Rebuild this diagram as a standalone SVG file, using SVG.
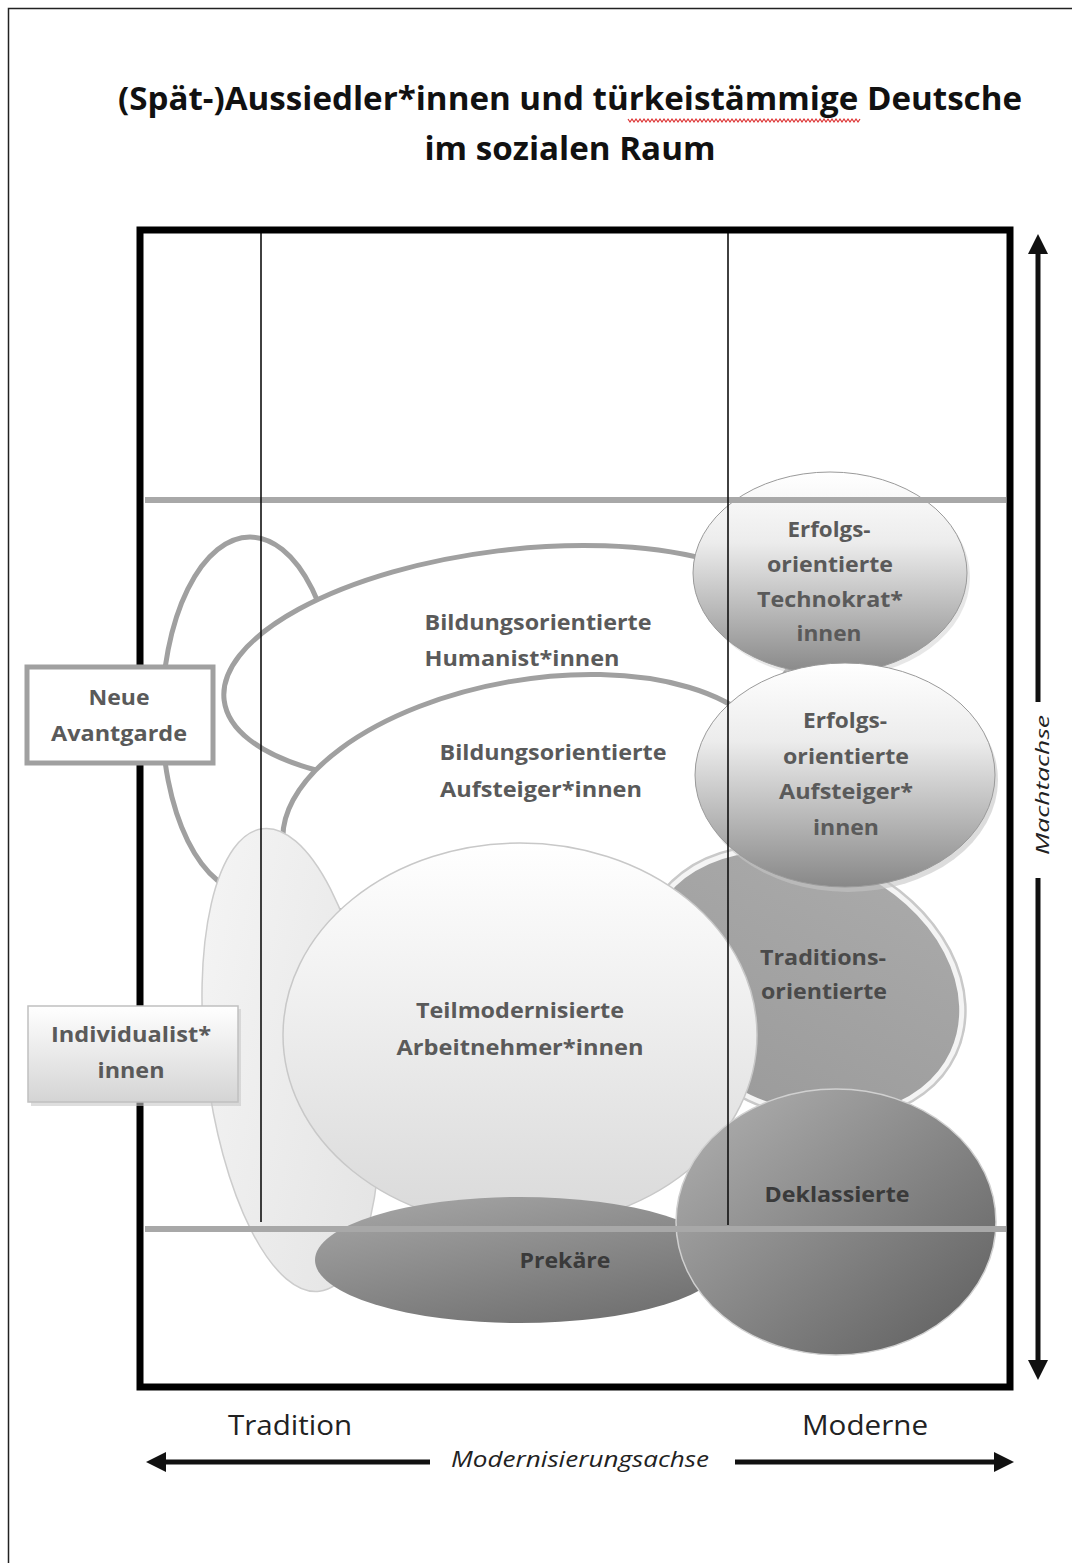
<svg xmlns="http://www.w3.org/2000/svg" width="1072" height="1563" viewBox="0 0 1072 1563">
<style>
.lbl{font-family:"Open Sans","Liberation Sans",sans-serif;font-weight:bold;font-size:22px;fill:#5a5a5a;text-anchor:middle}
.dk{fill:#3a3a3a}
.title{font-family:"Open Sans","Liberation Sans",sans-serif;font-weight:bold;font-size:32px;fill:#111;text-anchor:middle}
.axis{font-family:"Open Sans","Liberation Sans",sans-serif;font-size:27px;fill:#222;text-anchor:middle}
.axisI{font-family:"Open Sans","Liberation Sans",sans-serif;font-style:italic;font-size:21px;fill:#222;text-anchor:middle}
.outl{fill:#fff;stroke:#a0a0a0;stroke-width:5}
.grid{stroke:#a8a8a8;stroke-width:6}
.vline{stroke:#111;stroke-width:1.6}
.arr{stroke:#111;stroke-width:5;fill:none}
</style>
<defs>
<linearGradient id="gShade" x1="0" y1="0" x2="0" y2="1">
<stop offset="0" stop-color="#ffffff"/><stop offset="0.35" stop-color="#ececec"/><stop offset="1" stop-color="#888888"/>
</linearGradient>
<linearGradient id="gLight" x1="0" y1="0" x2="0" y2="1">
<stop offset="0" stop-color="#ffffff"/><stop offset="1" stop-color="#d9d9d9"/>
</linearGradient>
<linearGradient id="gInd" x1="0" y1="0" x2="1" y2="1">
<stop offset="0" stop-color="#f6f6f6"/><stop offset="1" stop-color="#e2e2e2"/>
</linearGradient>
<linearGradient id="gBox" x1="0" y1="0" x2="0" y2="1">
<stop offset="0" stop-color="#ffffff"/><stop offset="1" stop-color="#d4d4d4"/>
</linearGradient>
<linearGradient id="gTrad" x1="0" y1="0" x2="0" y2="1">
<stop offset="0" stop-color="#a9a9a9"/><stop offset="1" stop-color="#9c9c9c"/>
</linearGradient>
<linearGradient id="gPrek" x1="0" y1="0" x2="0.6" y2="1">
<stop offset="0" stop-color="#a8a8a8"/><stop offset="1" stop-color="#737373"/>
</linearGradient>
<linearGradient id="gDekl" x1="0" y1="0" x2="1" y2="1">
<stop offset="0" stop-color="#b3b3b3"/><stop offset="1" stop-color="#5c5c5c"/>
</linearGradient>
<marker id="ah" viewBox="0 0 10 10" refX="5" refY="5" markerWidth="4" markerHeight="4" orient="auto-start-reverse">
<path d="M0,0 L10,5 L0,10 z" fill="#111"/>
</marker>
</defs>

<rect x="0" y="0" width="1072" height="1563" fill="#fff"/>
<rect x="8.5" y="8.5" width="1075" height="1570" fill="none" stroke="#222" stroke-width="1.5"/>

<g id="title">
<text class="title" x="570" y="110" textLength="904" lengthAdjust="spacingAndGlyphs">(Spät-)Aussiedler*innen und türkeistämmige Deutsche</text>
<text class="title" x="570" y="160" textLength="291" lengthAdjust="spacingAndGlyphs">im sozialen Raum</text>
<polyline points="628,119 630,122 632,119 634,122 636,119 638,122 640,119 642,122 644,119 646,122 648,119 650,122 652,119 654,122 656,119 658,122 660,119 662,122 664,119 666,122 668,119 670,122 672,119 674,122 676,119 678,122 680,119 682,122 684,119 686,122 688,119 690,122 692,119 694,122 696,119 698,122 700,119 702,122 704,119 706,122 708,119 710,122 712,119 714,122 716,119 718,122 720,119 722,122 724,119 726,122 728,119 730,122 732,119 734,122 736,119 738,122 740,119 742,122 744,119 746,122 748,119 750,122 752,119 754,122 756,119 758,122 760,119 762,122 764,119 766,122 768,119 770,122 772,119 774,122 776,119 778,122 780,119 782,122 784,119 786,122 788,119 790,122 792,119 794,122 796,119 798,122 800,119 802,122 804,119 806,122 808,119 810,122 812,119 814,122 816,119 818,122 820,119 822,122 824,119 826,122 828,119 830,122 832,119 834,122 836,119 838,122 840,119 842,122 844,119 846,122 848,119 850,122 852,119 854,122 856,119 858,122 860,119" fill="none" stroke="#d33" stroke-width="1.2"/>
</g>

<g id="avantgarde-ellipse"><ellipse class="outl" cx="250" cy="715" rx="88" ry="178"/></g>
<g id="humanisten"><ellipse class="outl" cx="512" cy="665" rx="290" ry="115" transform="rotate(-7 512 665)"/></g>
<g id="technokraten"><ellipse cx="833" cy="577" rx="137" ry="101" fill="#cfcfcf" opacity="0.5"/><ellipse cx="830" cy="573" rx="137" ry="101" fill="url(#gShade)" stroke="#9a9a9a" stroke-width="1"/></g>
<g id="bildungsaufsteiger"><ellipse class="outl" cx="530" cy="805" rx="250" ry="125" transform="rotate(-10 530 805)"/></g>
<g id="traditionsorientierte"><ellipse cx="803" cy="983" rx="170" ry="131" transform="rotate(25 803 983)" fill="#c9c9c9"/><ellipse cx="803" cy="983" rx="165" ry="126" transform="rotate(25 803 983)" fill="url(#gTrad)" stroke="#f4f4f4" stroke-width="5"/></g>
<g id="erfolgsaufsteiger"><ellipse cx="848" cy="780" rx="150" ry="112" fill="#c4c4c4" opacity="0.6"/><ellipse cx="845" cy="775" rx="150" ry="112" fill="url(#gShade)" stroke="#9a9a9a" stroke-width="1"/></g>
<g id="individualisten-ellipse"><ellipse cx="291" cy="1060" rx="85" ry="233" transform="rotate(-7 291 1060)" fill="url(#gInd)" stroke="#cccccc" stroke-width="1.5"/></g>
<g id="teilmodernisierte"><ellipse cx="520" cy="1035" rx="237" ry="192" fill="url(#gLight)" stroke="#c8c8c8" stroke-width="1.5"/></g>
<g id="prekaere"><ellipse cx="520" cy="1260" rx="205" ry="63" fill="url(#gPrek)"/></g>
<g id="deklassierte"><ellipse cx="836" cy="1222" rx="160" ry="133" fill="url(#gDekl)" stroke="#d0d0d0" stroke-width="1.5"/></g>

<g id="connectors">
<line class="grid" x1="145" y1="500" x2="1006" y2="500"/>
<line class="grid" x1="145" y1="1229" x2="1006" y2="1229"/>
<line class="vline" x1="261" y1="233" x2="261" y2="1222"/>
<line class="vline" x1="728" y1="233" x2="728" y2="1225"/>
<rect x="140" y="230" width="870" height="1157" fill="none" stroke="#000" stroke-width="7"/>
<line class="arr" x1="1038" y1="702" x2="1038" y2="244" marker-end="url(#ah)"/>
<line class="arr" x1="1038" y1="878" x2="1038" y2="1370" marker-end="url(#ah)"/>
<line class="arr" x1="430" y1="1462" x2="156" y2="1462" marker-end="url(#ah)"/>
<line class="arr" x1="735" y1="1462" x2="1004" y2="1462" marker-end="url(#ah)"/>
</g>

<g id="neue-avantgarde">
<rect x="27" y="667" width="186" height="96" fill="#fff" stroke="#a0a0a0" stroke-width="5"/>
<text class="lbl" x="119" y="705" textLength="61" lengthAdjust="spacingAndGlyphs">Neue</text>
<text class="lbl" x="119" y="741" textLength="136" lengthAdjust="spacingAndGlyphs">Avantgarde</text>
</g>
<g id="individualisten">
<rect x="31" y="1009" width="210" height="97" fill="#c8c8c8" opacity="0.6"/>
<rect x="28" y="1006" width="210" height="96" fill="url(#gBox)" stroke="#c0c0c0" stroke-width="1.5"/>
<text class="lbl" x="131" y="1042" textLength="160" lengthAdjust="spacingAndGlyphs">Individualist*</text>
<text class="lbl" x="131" y="1078" textLength="67" lengthAdjust="spacingAndGlyphs">innen</text>
</g>

<g id="labels">
<text class="lbl" x="538" y="630" textLength="227" lengthAdjust="spacingAndGlyphs">Bildungsorientierte</text>
<text class="lbl" x="522" y="666" textLength="195" lengthAdjust="spacingAndGlyphs">Humanist*innen</text>
<text class="lbl" x="553" y="760" textLength="227" lengthAdjust="spacingAndGlyphs">Bildungsorientierte</text>
<text class="lbl" x="541" y="797" textLength="202" lengthAdjust="spacingAndGlyphs">Aufsteiger*innen</text>
<text class="lbl" x="829" y="537" textLength="83" lengthAdjust="spacingAndGlyphs">Erfolgs-</text>
<text class="lbl" x="830" y="572" textLength="126" lengthAdjust="spacingAndGlyphs">orientierte</text>
<text class="lbl" x="830" y="607" textLength="146" lengthAdjust="spacingAndGlyphs">Technokrat*</text>
<text class="lbl" x="829" y="641" textLength="65" lengthAdjust="spacingAndGlyphs">innen</text>
<text class="lbl" x="845" y="728" textLength="84" lengthAdjust="spacingAndGlyphs">Erfolgs-</text>
<text class="lbl" x="846" y="764" textLength="126" lengthAdjust="spacingAndGlyphs">orientierte</text>
<text class="lbl" x="846" y="799" textLength="134" lengthAdjust="spacingAndGlyphs">Aufsteiger*</text>
<text class="lbl" x="846" y="835" textLength="66" lengthAdjust="spacingAndGlyphs">innen</text>
<text class="lbl" x="823" y="965" textLength="126" lengthAdjust="spacingAndGlyphs" style="fill:#4a4a4a">Traditions-</text>
<text class="lbl" x="824" y="999" textLength="126" lengthAdjust="spacingAndGlyphs" style="fill:#4a4a4a">orientierte</text>
<text class="lbl" x="520" y="1018" textLength="208" lengthAdjust="spacingAndGlyphs">Teilmodernisierte</text>
<text class="lbl" x="520" y="1055" textLength="247" lengthAdjust="spacingAndGlyphs">Arbeitnehmer*innen</text>
<text class="lbl dk" x="837" y="1202" textLength="145" lengthAdjust="spacingAndGlyphs">Deklassierte</text>
<text class="lbl dk" x="565" y="1268" textLength="91" lengthAdjust="spacingAndGlyphs">Prekäre</text>
</g>

<g id="axes-text">
<text class="axis" x="290" y="1435" textLength="124" lengthAdjust="spacingAndGlyphs">Tradition</text>
<text class="axis" x="865" y="1435" textLength="126" lengthAdjust="spacingAndGlyphs">Moderne</text>
<text class="axisI" x="580" y="1467" textLength="258" lengthAdjust="spacingAndGlyphs">Modernisierungsachse</text>
<text class="axisI" transform="translate(1049 785) rotate(-90)" x="0" y="0" style="font-size:19px" textLength="140" lengthAdjust="spacingAndGlyphs">Machtachse</text>
</g>
</svg>
